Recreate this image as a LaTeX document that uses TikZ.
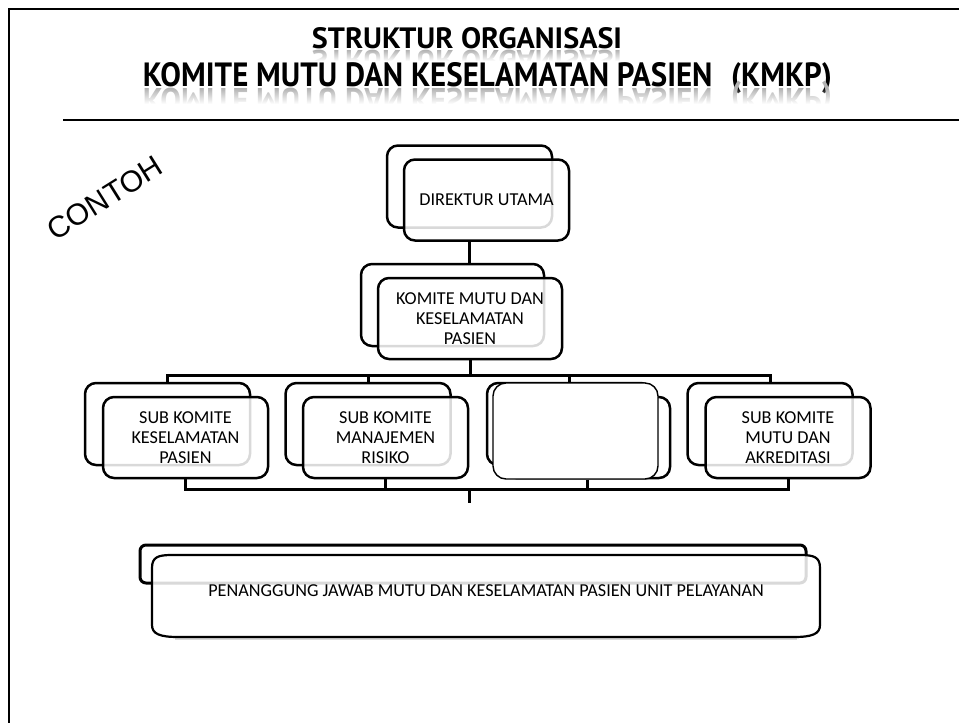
\documentclass[tikz,border=0pt]{standalone}
\usepackage{fontspec}
\usepackage{graphicx}
\setmainfont{Carlito}
\newfontfamily\titlefont{PT Sans}
\newfontfamily\stampfont{Liberation Sans}
\usetikzlibrary{calc,fadings}

% white overlay that is clear at the top and opaque at the bottom
\tikzfading[name=reflfade, top color=transparent!100, bottom color=transparent!0]

\newcommand\titleA{\resizebox{310pt}{21pt}{STRUKTUR ORGANISASI}}
\newcommand\titleB{\resizebox{689pt}{24pt}{KOMITE MUTU DAN KESELAMATAN PASIEN\hspace{0.6em}(KMKP)}}

\begin{document}
\begin{tikzpicture}[x=1pt,y=-1pt,
  boxtext/.style={font=\fontsize{18.2}{20}\selectfont},
  backbox/.style={draw=black, line width=2.5pt, rounded corners=11pt,
    minimum width=165pt, minimum height=82pt, inner sep=0pt},
  frontbox/.style={backbox, boxtext, fill=white, fill opacity=0.85, text opacity=1,
    minimum height=81pt, align=center},
  blankbox/.style={draw=black, line width=1.4pt, rounded corners=13pt, fill=white,
    minimum width=165pt, minimum height=96pt, inner sep=0pt},
  link/.style={draw=black, line width=3pt},
  headline/.style={font=\titlefont\bfseries, anchor=base, inner sep=0pt},
  mirror/.style={headline, text=gray!60},
]
\useasboundingbox (0,0) rectangle (959,723);

% page frame and rule under the heading
\draw[line width=2pt] (9,723) -- (9,9) -- (959,9);
\draw[line width=2pt] (63,120) -- (959,120);

% heading with its reflection
\node[headline] (head1) at (467,48) {\titleA};
\node[mirror] (head1r) at (467,50) {\scalebox{1}[-1]{\titleA}};
\fill[white, path fading=reflfade] (290,50) rectangle (640,61);
\fill[white] (290,61) rectangle (640,72);

\node[headline] (head2) at (487.5,86) {\titleB};
\node[mirror] (head2r) at (487.5,88) {\scalebox{1}[-1]{\titleB}};
\fill[white, path fading=reflfade] (130,88) rectangle (850,104);
\fill[white] (130,104) rectangle (850,116);

% stamp
\node[font=\stampfont\fontsize{30}{30}\selectfont, rotate=32] (stamp) at (105,198) {CONTOH};

% top of the chart
\node[backbox] (dirB) at (469.5,186.5) {};
\node[frontbox] (dirF) at (486.5,200) {DIREKTUR UTAMA};

\node[backbox, minimum width=183pt] (kmB) at (452.5,305) {};
\node[frontbox, minimum width=184pt] (kmF) at (470,318.5) {KOMITE MUTU DAN\\KESELAMATAN\\PASIEN};

\draw[link] (dirB.center |- dirF.south) -- (dirB.center |- kmB.north);

% sub committees
\node[backbox] (sB1) at (167.5,424) {};
\node[frontbox] (sF1) at (185.5,437.5) {SUB KOMITE\\KESELAMATAN\\PASIEN};
\node[backbox] (sB2) at (368,424) {};
\node[frontbox] (sF2) at (385.5,437.5) {SUB KOMITE\\MANAJEMEN\\RISIKO};
\node[backbox] (sB3) at (569.5,424) {};
\node[frontbox] (sF3) at (587.5,437.5) {};
\node[blankbox] (sX) at (575.5,431) {};
\node[backbox] (sB4) at (770,424) {};
\node[frontbox] (sF4) at (788,437.5) {SUB KOMITE\\MUTU DAN\\AKREDITASI};

% upper bus
\draw[link] (sB1.north) -- ++(0,-6) coordinate (busT) -- (busT -| sB4.north) -- (sB4.north);
\draw[link] (sB2.north) -- (sB2.north |- busT);
\draw[link] (sB3.north) -- (sB3.north |- busT);
\draw[link] (kmF.south) -- (kmF.south |- busT);

% lower bus
\draw[link] (sF1.south) -- ++(0,10) coordinate (busB) -- (busB -| sF4.south) -- (sF4.south);
\draw[link] (sF2.south) -- (sF2.south |- busB);
\draw[link] (sX.south -| sF3.south) -- (sF3.south |- busB);
\coordinate (tail) at (469,503);
\draw[link] (tail |- busB) -- (tail);

% unit level
\node[draw=black, line width=3pt, rounded corners=6pt, minimum width=666pt,
  minimum height=38pt, inner sep=0pt] (pnB) at (473,564) {};
\draw[gray!30, line width=2.5pt] (175,639) -- (797,639);
\draw[line width=2.2pt, fill=white, fill opacity=0.85]
  (152,568) .. controls (152,557) and (158,555) .. (172,555)
  -- (800,555) .. controls (814,555) and (820,557) .. (820,568)
  -- (820,625) .. controls (820,634) and (812,637) .. (794,637)
  -- (178,637) .. controls (160,637) and (152,634) .. (152,625) -- cycle;
\node[boxtext] (pnF) at (486,591) {PENANGGUNG JAWAB MUTU DAN KESELAMATAN PASIEN UNIT PELAYANAN};
\end{tikzpicture}
\end{document}
